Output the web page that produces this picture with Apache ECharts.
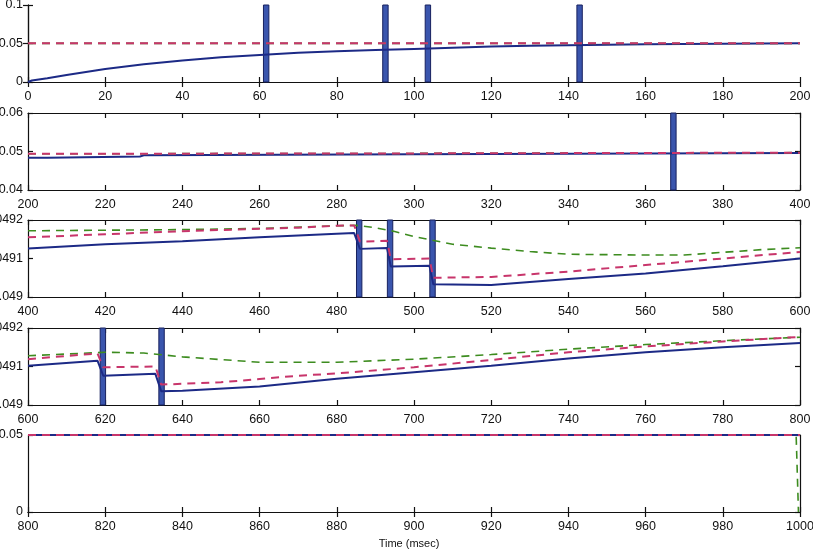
<!DOCTYPE html>
<html>
<head>
    <meta charset="UTF-8">
    <title>Time (msec)</title>
    <script src="https://cdn.jsdelivr.net/npm/echarts@6/dist/echarts.min.js"></script>
    <style>
        html, body { margin: 0; padding: 0; background: #fff; }
        #container { width: 813px; height: 554px; }
    </style>
</head>
<body>
<div id="container"></div>
<script>
    // x range / y range of each panel
    var timeRanges = [[0, 200], [200, 400], [400, 600], [600, 800], [800, 1000]];
    var valueRanges = [[0, 0.1, 0.05], [0.04, 0.06, 0.01], [0.049, 0.0492, 0.0001], [0.049, 0.0492, 0.0001], [0, 0.05, 0.05]];

    // spike times (thick vertical bars)
    var spikeTimes = [61.7, 92.6, 103.6, 142.9, 367.2, 485.8, 493.8, 504.8, 619.4, 634.6];

    // blue solid
    var blue1 = [[0, 0], [1, 0.002], [5, 0.005], [10, 0.009], [20, 0.017], [30, 0.023], [40, 0.028], [50, 0.032], [60, 0.035], [70, 0.038], [80, 0.040], [90, 0.0415], [100, 0.043], [110, 0.0445], [120, 0.046], [130, 0.047], [140, 0.0478], [150, 0.0485], [160, 0.049], [170, 0.0494], [180, 0.0497], [190, 0.05], [200, 0.0502]];
    var blue2 = [[200, 0.0484], [205, 0.0484], [205.5, 0.0487], [229, 0.0487], [230, 0.049], [300, 0.0493], [400, 0.0496]];
    var blue3 = [[400, 0.049126], [420, 0.049137], [440, 0.049145], [460, 0.049155], [480, 0.049164], [484.5, 0.049166], [486, 0.049125], [493, 0.049127], [494, 0.049079], [504, 0.049081], [505, 0.049033], [520, 0.049031], [540, 0.049047], [560, 0.049061], [580, 0.04908], [600, 0.0491]];
    var blue4 = [[600, 0.049102], [618, 0.049115], [619.5, 0.049076], [633, 0.049081], [634.5, 0.049036], [640, 0.049037], [660, 0.049048], [680, 0.049068], [700, 0.049085], [720, 0.049102], [740, 0.049121], [760, 0.049137], [780, 0.04915], [800, 0.049161]];
    var blue5 = [[800, 0.05], [1000, 0.05]];

    // red dashed
    var red1 = [[0, 0.0502], [200, 0.0502]];
    var red2 = [[200, 0.0494], [300, 0.0495], [400, 0.0497]];
    var red3 = [[400, 0.049155], [420, 0.049163], [440, 0.049171], [460, 0.049177], [470, 0.04918], [480, 0.049185], [484.5, 0.049186], [486, 0.049144], [493, 0.049146], [494, 0.049098], [504, 0.0491], [505, 0.04905], [520, 0.049052], [540, 0.049066], [560, 0.049083], [580, 0.0491], [600, 0.049117]];
    var red4 = [[600, 0.049119], [618, 0.049134], [619.5, 0.049098], [633, 0.0491], [634.5, 0.049053], [650, 0.049059], [670, 0.049076], [680, 0.049082], [700, 0.049098], [720, 0.049117], [740, 0.049137], [760, 0.049152], [780, 0.049165], [800, 0.049177]];
    var red5 = [[800, 0.05], [1000, 0.05]];

    // green dashed
    var green1 = [[0, 0.0502], [200, 0.0502]];
    var green2 = [[200, 0.0494], [300, 0.0495], [400, 0.0497]];
    var green3 = [[400, 0.049172], [440, 0.049175], [460, 0.049178], [480, 0.049185], [485, 0.049186], [490, 0.04918], [495, 0.04917], [500, 0.049157], [510, 0.049137], [520, 0.049127], [530, 0.049118], [540, 0.049111], [560, 0.049109], [570, 0.049109], [580, 0.049116], [590, 0.049123], [600, 0.049128]];
    var green4 = [[600, 0.049128], [620, 0.049137], [630, 0.049135], [640, 0.049125], [660, 0.049111], [680, 0.049111], [700, 0.049119], [720, 0.049131], [740, 0.049145], [760, 0.049157], [780, 0.049167], [800, 0.049176]];
    var green5 = [[800, 0.05], [999, 0.05], [999.6, 0]];

    var blues = [blue1, blue2, blue3, blue4, blue5];
    var reds = [red1, red2, red3, red4, red5];
    var greens = [green1, green2, green3, green4, green5];

    var mycharts = echarts.init(document.getElementById('container'));

    var panelTops = [5, 113, 220, 328, 435];
    var grids = [], xAxes = [], yAxes = [], series = [];
    var axisColor = '#111';
    var fontFamily = 'Liberation Sans, Arial, sans-serif';

    for (var i = 0; i < 5; i++) {
        grids.push({ left: 28, right: 13, top: panelTops[i], height: 77, containLabel: false, outerBoundsMode: 'none' });
        var xr = timeRanges[i], yr = valueRanges[i];
        // bottom + mirrored top
        xAxes.push({
            type: 'value', gridIndex: i, min: xr[0], max: xr[1], interval: 20,
            axisLine: { show: true, lineStyle: { color: axisColor, width: 1.2 } },
            axisTick: { show: true, inside: true, length: 5, lineStyle: { color: axisColor, width: 1.2 } },
            axisLabel: {
                show: true, color: '#111', fontSize: 12.5, fontFamily: fontFamily, margin: 8,
                showMinLabel: true, showMaxLabel: true, hideOverlap: false,
                formatter: function (v) { return String(v); }
            },
            splitLine: { show: false }
        });
        xAxes.push({
            type: 'value', gridIndex: i, position: 'top', min: xr[0], max: xr[1], interval: 20,
            axisLine: { show: true, lineStyle: { color: axisColor, width: 1.2 } },
            axisTick: { show: true, inside: true, length: 5, lineStyle: { color: axisColor, width: 1.2 } },
            axisLabel: { show: false },
            splitLine: { show: false }
        });
        yAxes.push({
            type: 'value', gridIndex: i, min: yr[0], max: yr[1], interval: yr[2],
            axisLine: { show: true, lineStyle: { color: axisColor, width: 1.2 } },
            axisTick: { show: true, inside: true, length: 5, lineStyle: { color: axisColor, width: 1.2 } },
            axisLabel: {
                show: true, color: '#111', fontSize: 12.5, fontFamily: fontFamily, margin: 5,
                formatter: function (v) { return String(+v.toFixed(6)); }
            },
            splitLine: { show: false }
        });
        yAxes.push({
            type: 'value', gridIndex: i, position: 'right', min: yr[0], max: yr[1], interval: yr[2],
            axisLine: { show: true, lineStyle: { color: axisColor, width: 1.2 } },
            axisTick: { show: true, inside: true, length: 5, lineStyle: { color: axisColor, width: 1.2 } },
            axisLabel: { show: false },
            splitLine: { show: false }
        });

        // spikes for this panel
        var areas = [];
        for (var s = 0; s < spikeTimes.length; s++) {
            var t = spikeTimes[s];
            if (t > xr[0] && t < xr[1]) {
                areas.push([{ xAxis: t - 0.7, yAxis: yr[0] }, { xAxis: t + 0.7, yAxis: yr[1] }]);
            }
        }

        series.push({
            type: 'line', xAxisIndex: 2 * i, yAxisIndex: 2 * i, data: blues[i],
            symbol: 'none', silent: true, z: 3,
            lineStyle: { color: '#1c2a86', width: 2 },
            markArea: {
                silent: true,
                itemStyle: { color: '#3a55ad', borderColor: '#17215e', borderWidth: 1 },
                data: areas
            }
        });
        series.push({
            type: 'line', xAxisIndex: 2 * i, yAxisIndex: 2 * i, data: greens[i],
            symbol: 'none', silent: true, z: 4,
            lineStyle: { color: '#3d8c1f', width: 1.6, type: [8, 6] }
        });
        series.push({
            type: 'line', xAxisIndex: 2 * i, yAxisIndex: 2 * i, data: reds[i],
            symbol: 'none', silent: true, z: 5,
            lineStyle: { color: '#c8356b', width: 2, type: [8, 6] }
        });
    }

    var option = {
        animation: false,
        backgroundColor: '#fff',
        title: {
            text: 'Time (msec)', left: 404, top: 533, textAlign: 'center',
            textStyle: { fontSize: 11, fontWeight: 'normal', color: '#111', fontFamily: fontFamily }
        },
        grid: grids,
        xAxis: xAxes,
        yAxis: yAxes,
        series: series
    };
    mycharts.setOption(option);
</script>
</body>
</html>
